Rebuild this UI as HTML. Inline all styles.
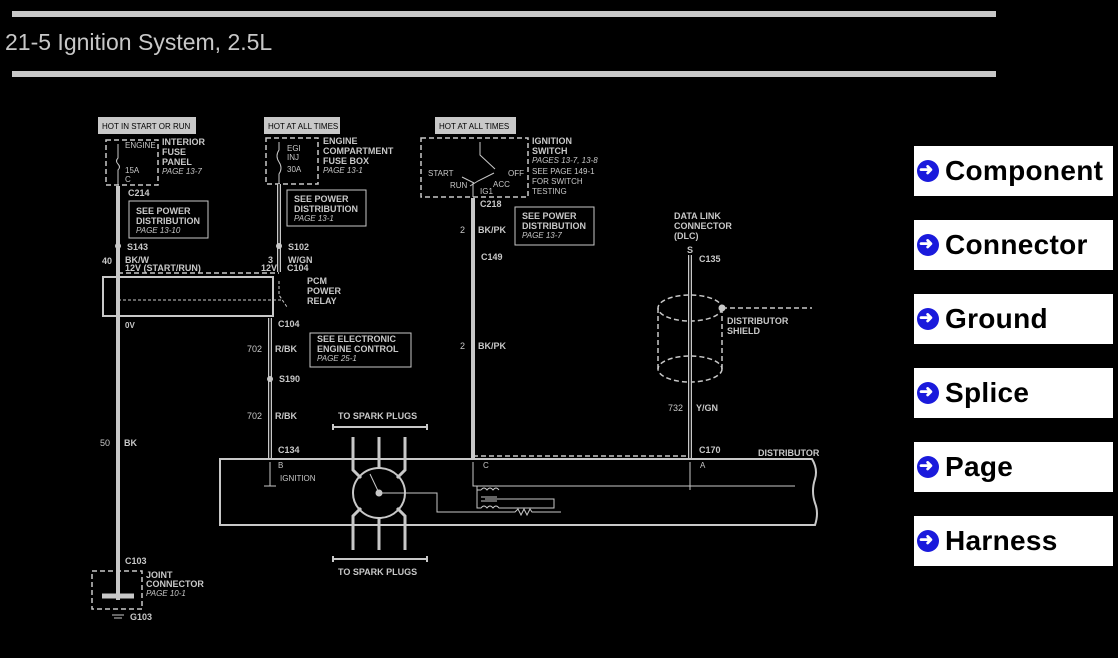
<!DOCTYPE html>
<html><head><style>
body{margin:0;background:#000;width:1118px;height:658px;overflow:hidden;position:relative;font-family:"Liberation Sans",sans-serif}
.bar{position:absolute;left:12px;width:984px;height:6px;background:#c8c8c8}
.title{position:absolute;left:5px;top:29px;color:#c8c8c8;font-size:23px}
.btn{position:absolute;left:914px;width:199px;height:50px;background:#fff;color:#000;font-weight:bold;font-size:28px;line-height:50px;white-space:nowrap;letter-spacing:0.3px}
.btn i{display:inline-block;width:22px;height:22px;border-radius:50%;background:#1a1adc;vertical-align:-2px;margin:0 6px 0 3px;position:relative}
.btn i:after{content:"➜";position:absolute;left:2px;top:-15px;color:#fff;font-size:17px;font-style:normal}
svg text{font-family:"Liberation Sans",sans-serif;fill:#c8c8c8;font-size:9px;font-weight:bold}
svg text.n{font-weight:normal}
svg text.it{font-style:italic;font-weight:normal;font-size:8px}
</style></head><body>
<div class="bar" style="top:11px"></div>
<div class="title">21-5 Ignition System, 2.5L</div>
<div class="bar" style="top:71px"></div>
<div class="btn" style="top:146px"><i></i>Component</div>
<div class="btn" style="top:220px"><i></i>Connector</div>
<div class="btn" style="top:294px"><i></i>Ground</div>
<div class="btn" style="top:368px"><i></i>Splice</div>
<div class="btn" style="top:442px"><i></i>Page</div>
<div class="btn" style="top:516px"><i></i>Harness</div>
<svg width="1118" height="658" style="position:absolute;left:0;top:0" stroke="#c8c8c8" fill="none">
<rect x="98" y="117" width="98" height="17" fill="#c8c8c8" stroke="none"/>
<rect x="264" y="117" width="76" height="17" fill="#c8c8c8" stroke="none"/>
<rect x="435" y="117" width="81" height="17" fill="#c8c8c8" stroke="none"/>
<g stroke="none"><text x="102" y="129" class="n" style="fill:#000;font-size:8px">HOT IN START OR RUN</text>
<text x="268" y="129" class="n" style="fill:#000;font-size:8px">HOT AT ALL TIMES</text>
<text x="439" y="129" class="n" style="fill:#000;font-size:8px">HOT AT ALL TIMES</text></g>
<g stroke-dasharray="5,3" stroke-width="1.5">
<rect x="106" y="140" width="52" height="45"/>
<rect x="266" y="138" width="52" height="46"/>
<rect x="421" y="138" width="107" height="59"/>
<rect x="92" y="571" width="50" height="38"/>
<line x1="118" y1="273" x2="279" y2="273"/>
<line x1="473" y1="456" x2="690" y2="456"/>
<line x1="722" y1="308" x2="812" y2="308"/>
<line x1="658" y1="308" x2="658" y2="369"/><line x1="722" y1="308" x2="722" y2="369"/>
<ellipse cx="690" cy="308" rx="32" ry="13"/><ellipse cx="690" cy="369" rx="32" ry="13"/>
</g>
<circle cx="722" cy="308" r="3" fill="#c8c8c8"/>
<path d="M118 144 V158 q-3 3 0 6 q3 3 0 6 V185" stroke-width="1"/>
<path d="M279 142 V150 q-4 6 0 12 q4 6 0 12 V184" stroke-width="1"/>
<line x1="118" y1="186" x2="118" y2="600" stroke-width="4"/>
<line x1="279" y1="184" x2="279" y2="272" stroke-width="4"/>
<line x1="279" y1="184" x2="279" y2="272" stroke="#000" stroke-width="1.5"/>
<line x1="270" y1="318" x2="270" y2="459" stroke-width="4"/>
<line x1="270" y1="318" x2="270" y2="459" stroke="#000" stroke-width="1.5"/>
<line x1="473" y1="198" x2="473" y2="459" stroke-width="4"/>
<line x1="690" y1="255" x2="690" y2="459" stroke-width="4"/>
<line x1="690" y1="255" x2="690" y2="459" stroke="#000" stroke-width="1.5"/>
<g fill="#c8c8c8" stroke="none"><circle cx="118" cy="246" r="3"/><circle cx="279" cy="246" r="3"/><circle cx="270" cy="379" r="3"/></g>
<rect x="103" y="277" width="170" height="39" stroke-width="2"/>
<path d="M118 281 V312 M279 281 V295 l8 12 M273 312 V300 M118 300 H283" stroke-width="1" stroke-dasharray="3,2"/>
<rect x="129" y="201" width="79" height="37"/>
<rect x="287" y="190" width="79" height="36"/>
<rect x="515" y="207" width="79" height="38"/>
<rect x="310" y="333" width="101" height="34"/>
<path d="M480 142 V155 l15 14 M462 177 l12 6 M473 183 V197 M470 186 l8 -5 l16 -8" stroke-width="1"/>
<path d="M220 459 H812 q6 10 3 20 q-4 12 0 24 q4 10 0 22 H220 Z" stroke-width="2"/>
<path d="M270 462 V486 M264 486 H276 M473 462 V486 H795 M690 462 V490" stroke-width="1"/>
<path d="M477 490 h4 m0 0 q3-4 6 0 q3-4 6 0 q3-4 6 0 M481 497 h16 M481 501 h16 M477 486 V508 h4 q3-4 6 0 q3-4 6 0 q3-4 6 0 h55 V499 H485" stroke-width="1"/>
<path d="M381 493 H437 V512 H515 l3-3 l3 6 l3-6 l3 6 l3-6 l2 3 H561" stroke-width="1"/>
<ellipse cx="379" cy="493" rx="26" ry="25" stroke-width="2"/>
<line x1="379" y1="493" x2="370" y2="474" stroke-width="1"/>
<circle cx="379" cy="493" r="3" fill="#c8c8c8"/>
<g stroke-width="3">
<path d="M353 437 V470 l8 8 M379 437 V468 M405 437 V470 l-8 8 M353 550 V516 l8 -8 M379 550 V518 M405 550 V516 l-8 -8"/>
</g>
<path d="M333 427 H427 M333 559 H427 M333 424 V430 M427 424 V430 M333 556 V562 M427 556 V562" stroke-width="2"/>
<path d="M102 596 H134" stroke-width="5"/>
<path d="M112 615 H124 M114 618 H122" stroke-width="1"/>
<g stroke="none">
<text x="125" y="148" class="n" style="font-size:8px">ENGINE</text><text x="125" y="173" class="n" style="font-size:8px">15A</text><text x="125" y="182" class="n" style="font-size:8px">C</text>
<text x="162" y="145">INTERIOR</text><text x="162" y="155">FUSE</text><text x="162" y="165">PANEL</text><text x="162" y="174" class="it">PAGE 13-7</text>
<text x="287" y="151" class="n" style="font-size:8px">EGI</text><text x="287" y="160" class="n" style="font-size:8px">INJ</text><text x="287" y="172" class="n" style="font-size:8px">30A</text>
<text x="323" y="144">ENGINE</text><text x="323" y="154">COMPARTMENT</text><text x="323" y="164">FUSE BOX</text><text x="323" y="173" class="it">PAGE 13-1</text>
<text x="128" y="196">C214</text>
<text x="136" y="214">SEE POWER</text><text x="136" y="224">DISTRIBUTION</text><text x="136" y="233" class="it">PAGE 13-10</text>
<text x="294" y="202">SEE POWER</text><text x="294" y="212">DISTRIBUTION</text><text x="294" y="221" class="it">PAGE 13-1</text>
<text x="127" y="250">S143</text><text x="288" y="250">S102</text>
<text x="102" y="264">40</text><text x="125" y="263">BK/W</text><text x="125" y="271">12V (START/RUN)</text>
<text x="268" y="263">3</text><text x="288" y="263">W/GN</text><text x="261" y="271">12V</text><text x="287" y="271">C104</text>
<text x="307" y="284">PCM</text><text x="307" y="294">POWER</text><text x="307" y="304">RELAY</text>
<text x="125" y="328" style="font-size:8px">0V</text><text x="278" y="327">C104</text>
<text x="317" y="342">SEE ELECTRONIC</text><text x="317" y="352">ENGINE CONTROL</text><text x="317" y="361" class="it">PAGE 25-1</text>
<text x="247" y="352" class="n">702</text><text x="275" y="352">R/BK</text>
<text x="279" y="382">S190</text>
<text x="247" y="419" class="n">702</text><text x="275" y="419">R/BK</text>
<text x="100" y="446" class="n">50</text><text x="124" y="446">BK</text>
<text x="278" y="453">C134</text>
<text x="278" y="468" class="n" style="font-size:8px">B</text><text x="280" y="481" class="n" style="font-size:8px">IGNITION</text>
<text x="338" y="419">TO SPARK PLUGS</text><text x="338" y="575">TO SPARK PLUGS</text>
<text x="532" y="144">IGNITION</text><text x="532" y="154">SWITCH</text><text x="532" y="163" class="it">PAGES 13-7, 13-8</text>
<text x="532" y="174" class="n" style="font-size:8px">SEE PAGE 149-1</text><text x="532" y="184" class="n" style="font-size:8px">FOR SWITCH</text><text x="532" y="194" class="n" style="font-size:8px">TESTING</text>
<text x="428" y="176" class="n" style="font-size:8px">START</text><text x="450" y="188" class="n" style="font-size:8px">RUN</text><text x="480" y="194" class="n" style="font-size:8px">IG1</text><text x="493" y="187" class="n" style="font-size:8px">ACC</text><text x="508" y="176" class="n" style="font-size:8px">OFF</text>
<text x="480" y="207">C218</text>
<text x="460" y="233" class="n">2</text><text x="478" y="233">BK/PK</text>
<text x="481" y="260">C149</text>
<text x="522" y="219">SEE POWER</text><text x="522" y="229">DISTRIBUTION</text><text x="522" y="238" class="it">PAGE 13-7</text>
<text x="460" y="349" class="n">2</text><text x="478" y="349">BK/PK</text>
<text x="483" y="468" class="n" style="font-size:8px">C</text>
<text x="674" y="219">DATA LINK</text><text x="674" y="229">CONNECTOR</text><text x="674" y="239">(DLC)</text>
<text x="687" y="253">S</text><text x="699" y="262">C135</text>
<text x="727" y="324">DISTRIBUTOR</text><text x="727" y="334">SHIELD</text>
<text x="668" y="411" class="n">732</text><text x="696" y="411">Y/GN</text>
<text x="699" y="453">C170</text><text x="758" y="456">DISTRIBUTOR</text>
<text x="700" y="468" class="n" style="font-size:8px">A</text>
<text x="125" y="564">C103</text>
<text x="146" y="578">JOINT</text><text x="146" y="587">CONNECTOR</text><text x="146" y="596" class="it">PAGE 10-1</text>
<text x="130" y="620">G103</text>
</g>
</svg>
</body></html>
